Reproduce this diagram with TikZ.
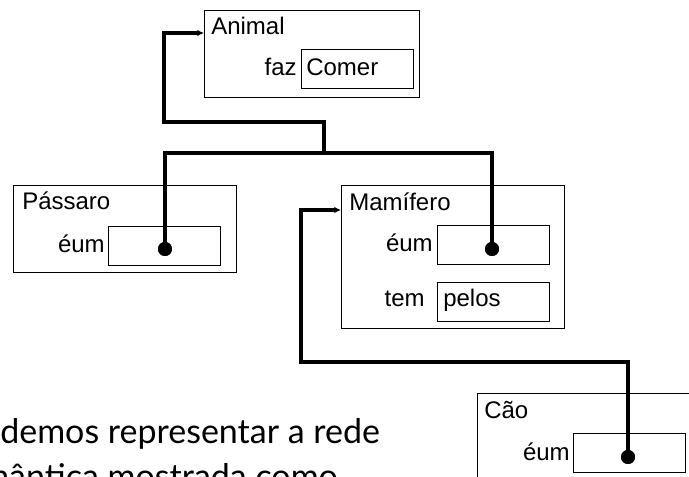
\documentclass[tikz,border=0pt]{standalone}
\usepackage{fontspec}
\setmainfont{Liberation Sans}
\newfontfamily\bodyfont{Lato}
\usetikzlibrary{arrows.meta}
\begin{document}
\begin{tikzpicture}[x=0.75pt,y=-0.75pt,
  frame/.style={draw,line width=0.8pt,anchor=north west,inner sep=0pt},
  slot/.style={draw,line width=0.8pt,anchor=north west,inner sep=0pt,minimum width=84pt,minimum height=29.25pt},
  lbl/.style={anchor=base west,inner sep=0pt,font=\fontsize{18}{20}\selectfont},
  rlbl/.style={anchor=base east,inner sep=0pt,font=\fontsize{18}{20}\selectfont},
  dot/.style={circle,fill=black,inner sep=0pt,minimum size=10.5pt},
  conn/.style={line width=2.3pt},
  arr/.style={-{Latex[length=5pt,width=5pt]}},
  body/.style={anchor=base west,inner sep=0pt,font=\bodyfont\fontsize{25.5}{28}\selectfont}]
\useasboundingbox (0,0) rectangle (689,477);
\clip (0,0) rectangle (689,477);
% boxes
\node[frame,minimum width=161.25pt,minimum height=65.25pt] (animal) at (204,10) {};
\node[slot] (comer) at (301,49) {};
\node[frame,minimum width=167.25pt,minimum height=65.25pt] (passaro) at (13,185) {};
\node[slot] (pslot) at (108,226) {};
\node[frame,minimum width=167.25pt,minimum height=107.25pt] (mamifero) at (341,185) {};
\node[slot] (mslot) at (437,225) {};
\node[slot] (pelos) at (437,282) {};
\node[frame,minimum width=167.25pt,minimum height=65.25pt] (cao) at (477,393) {};
\node[slot] (cslot) at (573,433) {};
% labels
\node[lbl] (tAnimal) at (211,35) {Animal};
\node[rlbl] (tfaz) at (297,76) {faz};
\node[lbl] (tComer) at (306,76) {Comer};
\node[lbl] (tPassaro) at (22,210) {Pássaro};
\node[rlbl] (tpeum) at (105,253) {éum};
\node[lbl] (tMamifero) at (349,211) {Mamífero};
\node[rlbl] (tmeum) at (433,252) {éum};
\node[rlbl] (ttem) at (425,307) {tem};
\node[lbl] (tpelos) at (443,307) {pelos};
\node[lbl] (tCao) at (484,418) {Cão};
\node[rlbl] (tceum) at (570,460) {éum};
% dots
\node[dot] (pd) at (165,249) {};
\node[dot] (md) at (492,249) {};
\node[dot] (cd) at (628,457) {};
% connectors
\coordinate (j1) at (324,153);
\coordinate (j2) at (164,122);
\coordinate (aIn) at (204,33);
\coordinate (j3) at (301,362);
\coordinate (mIn) at (341,210);
\draw[conn] (pd.center) |- (j1) -| (md.center);
\draw[conn,arr] (j1) |- (j2) |- (aIn);
\draw[conn,arr] (cd.center) |- (j3) |- (mIn);
\node[dot] at (pd) {};
\node[dot] at (md) {};
\node[dot] at (cd) {};
% body text
\node[body] (line1) at (0,443) {demos representar a rede};
\node[body] (line2) at (-19,488) {mântica mostrada como};
\end{tikzpicture}
\end{document}
